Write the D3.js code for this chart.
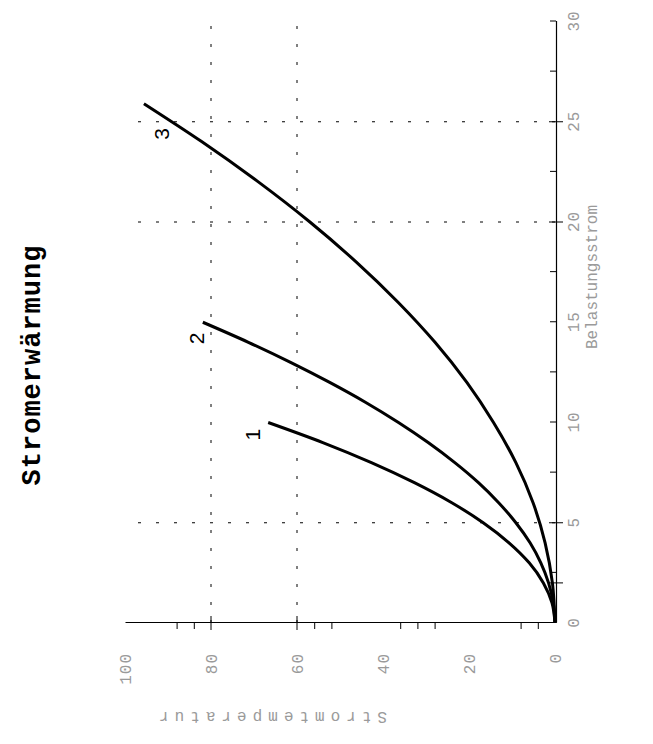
<!DOCTYPE html>
<html>
<head>
<meta charset="utf-8">
<script src="https://cdn.jsdelivr.net/npm/d3@7"></script>
<style>
body { margin: 0; background: #fff; }
</style>
</head>
<body>
<script>
// values
var currentTicks = [0, 5, 10, 15, 20, 25, 30];
var tempTicks = [0, 20, 40, 60, 80, 100];
var currentGrid = [5, 20, 25];
var tempGrid = [60, 80];
var currentCross = [2, 5, 20, 25];
var tempCross = [60, 80];
var currentMinor = [2.5, 7.5, 10, 12.5, 15, 17.5, 22.5, 27.5, 30];
var tempMinor = [4, 8, 28, 32, 36, 52, 56, 84, 88];

var curveNames = ['1', '2', '3'];
var current1 = [0, 1, 2, 3, 4, 5, 6, 7, 8, 9, 10];
var temp1 = [0, 0.7, 2.7, 6, 10.7, 16.7, 24, 32.7, 42.7, 54, 66.7];
var current2 = [0, 1, 2, 3, 4, 5, 6, 7, 8, 9, 10, 11, 12, 13, 14, 15];
var temp2 = [0, 0.4, 1.5, 3.3, 5.8, 9.1, 13.1, 17.8, 23.3, 29.5, 36.4, 44, 52.4, 61.5, 71.3, 81.9];
var current3 = [0, 2, 4, 6, 8, 10, 12, 14, 16, 18, 20, 22, 24, 25.9];
var temp3 = [0, 0.6, 2.3, 5.1, 9.1, 14.3, 20.5, 27.9, 36.5, 46.2, 57, 69, 82.1, 95.6];
var labelCurrent = [9.4, 14.2, 24.4];
var labelTemp = [70.2, 83.3, 91.4];

var svg = d3.select('body').append('svg')
	.attr('width', 653)
	.attr('height', 744);

// whole chart is turned a quarter turn to the left
var chart = svg.append('g')
	.attr('transform', 'translate(0,744) rotate(-90)');

var x = d3.scaleLinear().domain([0, 30]).range([121, 722.5]);
var y = d3.scaleLinear().domain([0, 100]).range([555, 125]);

// dotted grid
chart.selectAll('.gx').data(currentGrid).enter().append('line')
	.attr('x1', function(d){ return x(d); })
	.attr('x2', function(d){ return x(d); })
	.attr('y1', y(0))
	.attr('y2', y(100))
	.attr('stroke', '#000')
	.attr('stroke-width', 1)
	.attr('stroke-dasharray', '3,15');

chart.selectAll('.gy').data(tempGrid).enter().append('line')
	.attr('x1', x(0))
	.attr('x2', x(30))
	.attr('y1', function(d){ return y(d); })
	.attr('y2', function(d){ return y(d); })
	.attr('stroke', '#000')
	.attr('stroke-width', 1)
	.attr('stroke-dasharray', '3,15');

// current axis (bottom before turning)
var xAxis = chart.append('g')
	.attr('transform', 'translate(0,' + (y(0) + 1) + ')')
	.call(d3.axisBottom(x).tickValues(currentTicks).tickSize(0).tickPadding(12).tickFormat(d3.format('d')));

chart.append('g')
	.attr('transform', 'translate(0,' + (y(0) + 1) + ')')
	.call(d3.axisBottom(x).tickValues(currentMinor).tickSize(-6).tickFormat(''))
	.call(function(g){ g.select('.domain').remove(); });

chart.selectAll('.cx').data(currentCross).enter().append('line')
	.attr('x1', function(d){ return x(d); })
	.attr('x2', function(d){ return x(d); })
	.attr('y1', y(0) + 1 - 7)
	.attr('y2', y(0) + 1 + 7)
	.attr('stroke', '#000');

// temperature axis (left before turning)
var yAxis = chart.append('g')
	.attr('transform', 'translate(' + x(0) + ',0)')
	.call(d3.axisLeft(y).tickValues(tempTicks).tickSize(0).tickPadding(30).tickFormat(d3.format('d')));

chart.append('g')
	.attr('transform', 'translate(' + x(0) + ',0)')
	.call(d3.axisLeft(y).tickValues(tempMinor).tickSize(6).tickFormat(''))
	.call(function(g){ g.select('.domain').remove(); });

chart.selectAll('.cy').data(tempCross).enter().append('line')
	.attr('x1', x(0) - 7)
	.attr('x2', x(0) + 7)
	.attr('y1', function(d){ return y(d); })
	.attr('y2', function(d){ return y(d); })
	.attr('stroke', '#000');

chart.selectAll('.domain').attr('stroke', '#000').attr('stroke-width', 1.2);
chart.selectAll('.tick line').attr('stroke', '#000');
chart.selectAll('.tick text')
	.attr('font-family', 'Liberation Mono, monospace')
	.attr('font-size', 16)
	.attr('letter-spacing', 1)
	.attr('fill', '#9a9a9a');

// curves
var line = d3.line()
	.x(function(d){ return x(d[0]); })
	.y(function(d){ return y(d[1]); })
	.curve(d3.curveMonotoneX);

var series = [
	d3.zip(current1, temp1),
	d3.zip(current2, temp2),
	d3.zip(current3, temp3)
];

chart.selectAll('.curve').data(series).enter().append('path')
	.attr('d', line)
	.attr('fill', 'none')
	.attr('stroke', '#000')
	.attr('stroke-width', 3);

chart.selectAll('.lab').data(curveNames).enter().append('text')
	.attr('x', function(d, i){ return x(labelCurrent[i]); })
	.attr('y', function(d, i){ return y(labelTemp[i]); })
	.attr('dy', '0.35em')
	.attr('text-anchor', 'middle')
	.attr('font-family', 'Liberation Sans, Arial, sans-serif')
	.attr('font-size', 21)
	.attr('fill', '#000')
	.text(function(d){ return d; });

// titles
chart.append('text')
	.attr('x', 379)
	.attr('y', 40)
	.attr('text-anchor', 'middle')
	.attr('font-family', 'Liberation Mono, monospace')
	.attr('font-weight', 'bold')
	.attr('font-size', 27)
	.attr('letter-spacing', 1)
	.attr('fill', '#000')
	.text('Stromerwärmung');

chart.append('text')
	.attr('x', 467)
	.attr('y', 597)
	.attr('text-anchor', 'middle')
	.attr('font-family', 'Liberation Mono, monospace')
	.attr('font-size', 16)
	.attr('fill', '#9a9a9a')
	.text('Belastungsstrom');

chart.append('text')
	.attr('transform', 'translate(26,270) rotate(-90)')
	.attr('dy', '0.35em')
	.attr('text-anchor', 'middle')
	.attr('font-family', 'Liberation Mono, monospace')
	.attr('font-size', 16)
	.attr('letter-spacing', 6)
	.attr('fill', '#9a9a9a')
	.text('Stromtemperatur');
</script>
</body>
</html>
